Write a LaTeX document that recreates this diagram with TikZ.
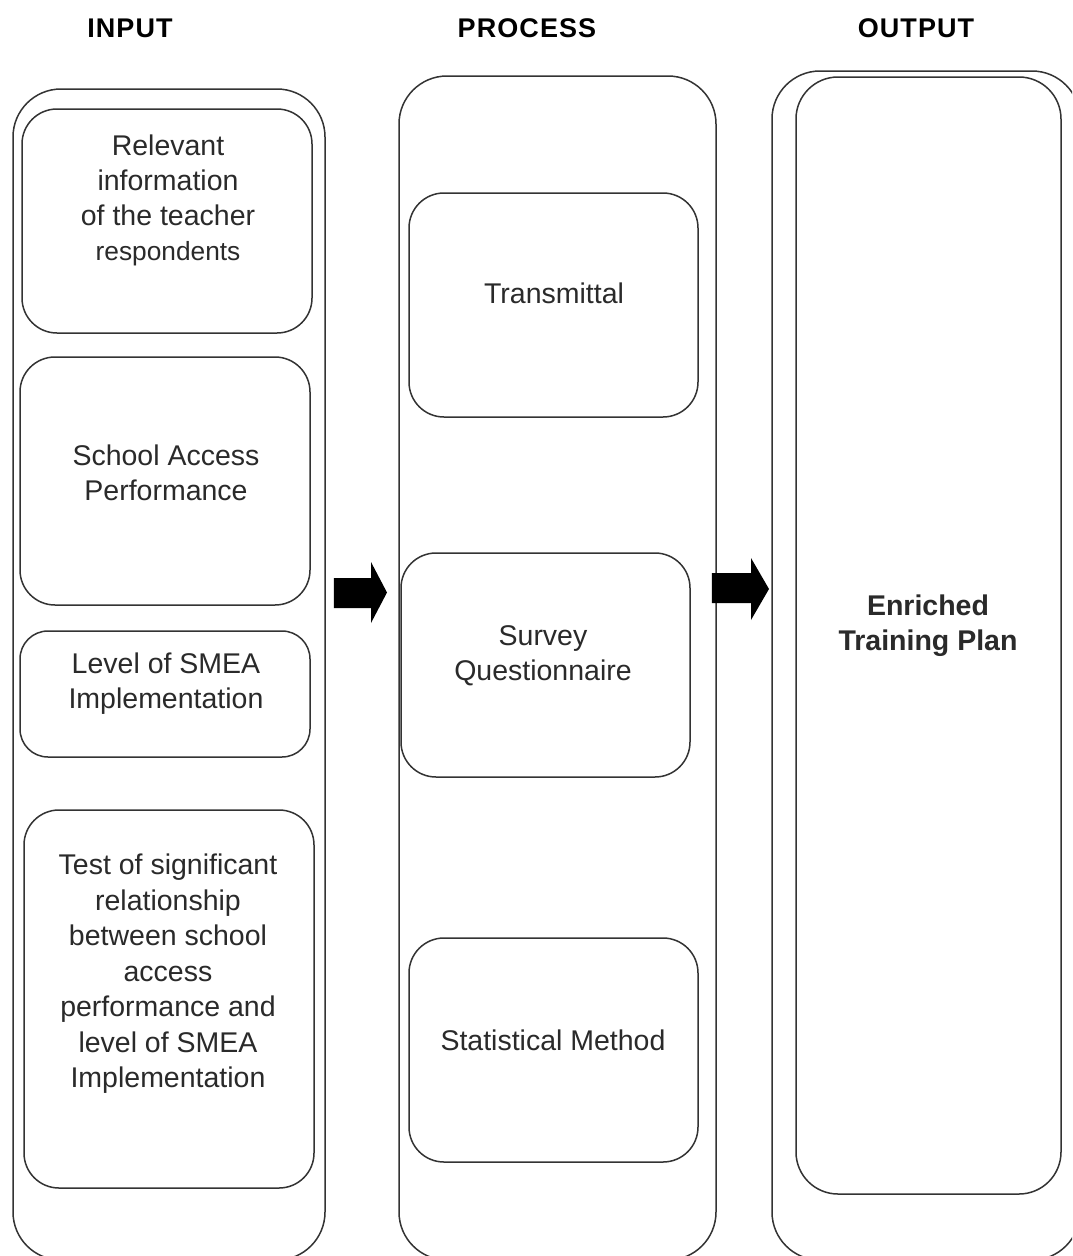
\documentclass[tikz,border=0pt]{standalone}
\usepackage{fontspec}
\setmainfont{Liberation Sans}
\begin{document}
\begin{tikzpicture}[x=1pt,y=-1pt,
  line/.style={draw=linegray, line width=1.5pt},
  outerbox/.style={line, rounded corners=48pt, inner sep=0pt},
  innerbox/.style={line, rounded corners=35pt, inner sep=0pt},
  txt/.style={text=txtgray, align=center, font=\fontsize{28.5}{35}\selectfont, inner sep=0pt},
  head/.style={text=black, font=\fontsize{27}{32}\selectfont\bfseries\addfontfeature{LetterSpace=4}, inner sep=0pt},
  blockarrow/.style={fill=black}
]
\definecolor{linegray}{HTML}{333333}
\definecolor{txtgray}{HTML}{2A2A2A}
\useasboundingbox (0,0) rectangle (1072,1256);
\clip (0,0) rectangle (1072,1256);
\fill[white] (0,0) rectangle (1072,1256);

% headers
\node[head] (hin) at (130,28) {INPUT};
\node[head] (hpr) at (527,28) {PROCESS};
\node[head] (hout) at (916,28) {OUTPUT};

% outer containers
\node[outerbox, minimum width=312pt, minimum height=1171pt] (inL) at (169,674.5) {};
\node[outerbox, minimum width=317pt, minimum height=1184pt] (prC) at (557.5,668) {};
\node[outerbox, minimum width=308pt, minimum height=1189pt] (outR) at (926,665.5) {};

% input boxes
\node[innerbox, minimum width=290pt, minimum height=224pt] (b1) at (167,221) {};
\node[txt] (t1) at (168,200) {Relevant\\information\\of the teacher\\{\fontsize{26.3}{35}\selectfont respondents}};

\node[innerbox, minimum width=290pt, minimum height=248pt] (b2) at (165,481) {};
\node[txt] (t2) at (166,473) {School Access\\Performance};

\node[innerbox, rounded corners=28pt, minimum width=290pt, minimum height=126pt] (b3) at (165,694) {};
\node[txt] (t3) at (166,684) {Level of SMEA\\Implementation};

\node[innerbox, minimum width=290pt, minimum height=378pt] (b4) at (169,999) {};
\node[txt, font=\fontsize{28.5}{35.5}\selectfont] (t4) at (168,974) {Test of significant\\relationship\\between school\\access\\performance and\\level of SMEA\\Implementation};

% process boxes
\node[innerbox, minimum width=289pt, minimum height=224pt] (p1) at (553.5,305) {};
\node[txt] (tp1) at (554,293) {Transmittal};

\node[innerbox, minimum width=289pt, minimum height=224pt] (p2) at (545.5,665) {};
\node[txt] (tp2) at (543,656) {Survey\\Questionnaire};

\node[innerbox, minimum width=289pt, minimum height=224pt] (p3) at (553.5,1050) {};
\node[txt] (tp3) at (553,1040) {Statistical Method};

% output box
\node[line, rounded corners=42pt, inner sep=0pt, minimum width=265pt, minimum height=1117pt] (o1) at (928.5,635.5) {};
\node[txt, font=\fontsize{28.5}{35}\selectfont\bfseries] (to1) at (928,626) {Enriched\\Training Plan};

% block arrows between containers
\fill[blockarrow] ([xshift=8pt]inL.east |- 0,578) -- (371,578) -- (371,562) -- (387,592.5)
  -- (371,623) -- (371,608) -- ([xshift=8pt]inL.east |- 0,608) -- cycle;
\fill[blockarrow] ([xshift=-5pt]prC.east |- 0,573) -- (751,573) -- (751,558) -- (769,589)
  -- (751,620) -- (751,603) -- ([xshift=-5pt]prC.east |- 0,603) -- cycle;
\end{tikzpicture}
\end{document}
